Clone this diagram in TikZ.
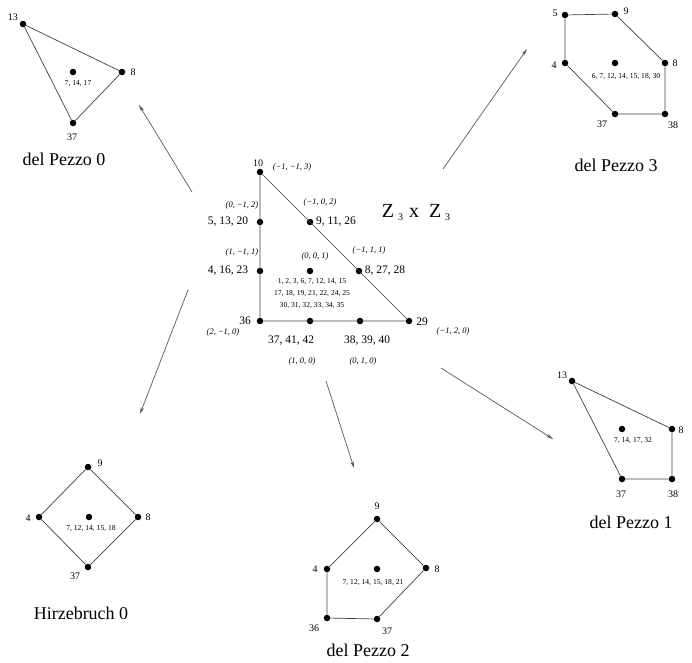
\documentclass[tikz,border=0pt]{standalone}
\usepackage{fontspec}
\setmainfont{Liberation Serif}
\usetikzlibrary{arrows.meta}

\begin{document}
\begin{tikzpicture}[x=1pt, y=-1pt]
  % Define styles
  \tikzstyle{vtx} = [circle, fill=black, inner sep=0pt, minimum size=6.5pt]
  \tikzstyle{lbl} = [inner sep=0pt, font=\fontsize{10}{12}\selectfont]
  \tikzstyle{biglbl} = [inner sep=0pt, font=\fontsize{11.5}{13}\selectfont]
  \tikzstyle{wt} = [inner sep=0pt, font=\fontsize{8.5}{10}\selectfont\itshape]
  \tikzstyle{multi} = [inner sep=0pt, font=\fontsize{7.6}{12}\selectfont, align=center]
  \tikzstyle{ttl} = [inner sep=0pt, font=\fontsize{18}{20}\selectfont]
  \tikzstyle{edge} = [draw, black!75, line width=0.7pt]
  \tikzstyle{arr} = [draw, black!65, line width=0.7pt, -{Stealth[length=7pt, width=3.5pt]}]

  \useasboundingbox (0,0) rectangle (692,662);

  % Central toric diagram
  \node[vtx] (c10) at (260,172) {};
  \node[vtx] (c5) at (260,222) {};
  \node[vtx] (c4) at (260,271) {};
  \node[vtx] (c36) at (260,321) {};
  \node[vtx] (c37) at (310,321) {};
  \node[vtx] (c38) at (360,321) {};
  \node[vtx] (c29) at (409,321) {};
  \node[vtx] (c9) at (310,222) {};
  \node[vtx] (c8) at (359,271) {};
  \node[vtx] (c0) at (310,271) {};

  \draw[edge] (c10) -- (c36) -- (c29) -- (c10);

  \node[lbl] (t10) at (258,163) {10};
  \node[biglbl] (t5) at (228,222) {5, 13, 20};
  \node[biglbl] (t4) at (228,271) {4, 16, 23};
  \node[biglbl] (t36) at (245,321) {36};
  \node[biglbl] (t9) at (336,222) {9, 11, 26};
  \node[biglbl] (t8) at (385,271) {8, 27, 28};
  \node[biglbl] (t29) at (422,322) {29};
  \node[biglbl] (t37) at (291,341) {37, 41, 42};
  \node[biglbl] (t38) at (367,341) {38, 39, 40};
  \node[multi] (t0) at (312,294) {1, 2, 3, 6, 7, 12, 14, 15\\17, 18, 19, 21, 22, 24, 25\\30, 31, 32, 33, 34, 35};

  % Weights
  \node[wt] (w10) at (292,167) {(−1, −1, 3)};
  \node[wt] (w5) at (242,205) {(0, −1, 2)};
  \node[wt] (w9) at (320,202) {(−1, 0, 2)};
  \node[wt] (w4) at (242,252) {(1, −1, 1)};
  \node[wt] (w0) at (315,256) {(0, 0, 1)};
  \node[wt] (w8) at (369,250) {(−1, 1, 1)};
  \node[wt] (w36) at (223,332) {(2, −1, 0)};
  \node[wt] (w29) at (453,331) {(−1, 2, 0)};
  \node[wt] (w37) at (302,361) {(1, 0, 0)};
  \node[wt] (w38) at (363,361) {(0, 1, 0)};

  \node[ttl, font=\fontsize{20}{22}\selectfont] (grp) at (416,212)
    {Z\hspace{4pt}\raisebox{-3pt}{\fontsize{10}{12}\selectfont 3}\hspace{6pt}x\hspace{10pt}Z\hspace{4pt}\raisebox{-3pt}{\fontsize{10}{12}\selectfont 3}};

  % del Pezzo 0
  \node[vtx] (a13) at (23,24) {};
  \node[vtx] (a8) at (122,72) {};
  \node[vtx] (a37) at (73,123) {};
  \node[vtx] (a0) at (73,72) {};
  \draw[edge] (a13) -- (a8) -- (a37) -- (a13);
  \node[lbl] (ta13) at (13,17) {13};
  \node[lbl] (ta8) at (133,72) {8};
  \node[lbl] (ta37) at (72,137) {37};
  \node[multi] (ta0) at (78,84) {7, 14, 17};
  \node[ttl] (dp0) at (64,159) {del Pezzo 0};

  % del Pezzo 3
  \node[vtx] (b5) at (565,15) {};
  \node[vtx] (b9) at (615,14) {};
  \node[vtx] (b8) at (665,63) {};
  \node[vtx] (b38) at (665,114) {};
  \node[vtx] (b37) at (615,114) {};
  \node[vtx] (b4) at (565,63) {};
  \node[vtx] (b0) at (615,63) {};
  \draw[edge] (b5) -- (b9) -- (b8) -- (b38) -- (b37) -- (b4) -- (b5);
  \node[lbl] (tb5) at (555,13) {5};
  \node[lbl] (tb9) at (626,11) {9};
  \node[lbl] (tb8) at (675,63) {8};
  \node[lbl] (tb4) at (554,65) {4};
  \node[lbl] (tb37) at (602,124) {37};
  \node[lbl] (tb38) at (673,125) {38};
  \node[multi] (tb0) at (626,77) {6, 7, 12, 14, 15, 18, 30};
  \node[ttl] (dp3) at (616,165) {del Pezzo 3};

  % Hirzebruch 0
  \node[vtx] (h9) at (88,467) {};
  \node[vtx] (h4) at (39,517) {};
  \node[vtx] (h8) at (138,517) {};
  \node[vtx] (h37) at (88,567) {};
  \node[vtx] (h0) at (89,517) {};
  \draw[edge] (h9) -- (h8) -- (h37) -- (h4) -- (h9);
  \node[lbl] (th9) at (100,463) {9};
  \node[lbl] (th4) at (28,518) {4};
  \node[lbl] (th8) at (148,517) {8};
  \node[lbl] (th37) at (75,576) {37};
  \node[multi] (th0) at (91,529) {7, 12, 14, 15, 18};
  \node[ttl] (f0) at (81,613) {Hirzebruch 0};

  % del Pezzo 2
  \node[vtx] (d9) at (377,519) {};
  \node[vtx] (d4) at (327,569) {};
  \node[vtx] (d8) at (426,568) {};
  \node[vtx] (d36) at (327,618) {};
  \node[vtx] (d37) at (377,619) {};
  \node[vtx] (d0) at (377,569) {};
  \draw[edge] (d9) -- (d8) -- (d37) -- (d36) -- (d4) -- (d9);
  \node[lbl] (td9) at (377,506) {9};
  \node[lbl] (td4) at (315,569) {4};
  \node[lbl] (td8) at (437,569) {8};
  \node[lbl] (td36) at (314,628) {36};
  \node[lbl] (td37) at (387,631) {37};
  \node[multi] (td0) at (373,583) {7, 12, 14, 15, 18, 21};
  \node[ttl] (dp2) at (368,650) {del Pezzo 2};

  % del Pezzo 1
  \node[vtx] (e13) at (572,381) {};
  \node[vtx] (e8) at (672,429) {};
  \node[vtx] (e38) at (672,479) {};
  \node[vtx] (e37) at (622,479) {};
  \node[vtx] (e0) at (622,429) {};
  \draw[edge] (e13) -- (e8) -- (e38) -- (e37) -- (e13);
  \node[lbl] (te13) at (562,375) {13};
  \node[lbl] (te8) at (681,430) {8};
  \node[lbl] (te37) at (621,494) {37};
  \node[lbl] (te38) at (673,494) {38};
  \node[multi] (te0) at (633,441) {7, 14, 17, 32};
  \node[ttl] (dp1) at (631,522) {del Pezzo 1};

  % Arrows to the quotients
  \coordinate (s0) at (192,192);
  \coordinate (e0a) at (139,105);
  \coordinate (s3) at (443,169);
  \coordinate (e3a) at (527,49);
  \coordinate (sh) at (188,290);
  \coordinate (eha) at (140,414);
  \coordinate (s2) at (326,381);
  \coordinate (e2a) at (354,468);
  \coordinate (s1) at (441,368);
  \coordinate (e1a) at (553,439);
  \draw[arr] (s0) -- (e0a);
  \draw[arr] (s3) -- (e3a);
  \draw[arr] (sh) -- (eha);
  \draw[arr] (s2) -- (e2a);
  \draw[arr] (s1) -- (e1a);
\end{tikzpicture}
\end{document}
